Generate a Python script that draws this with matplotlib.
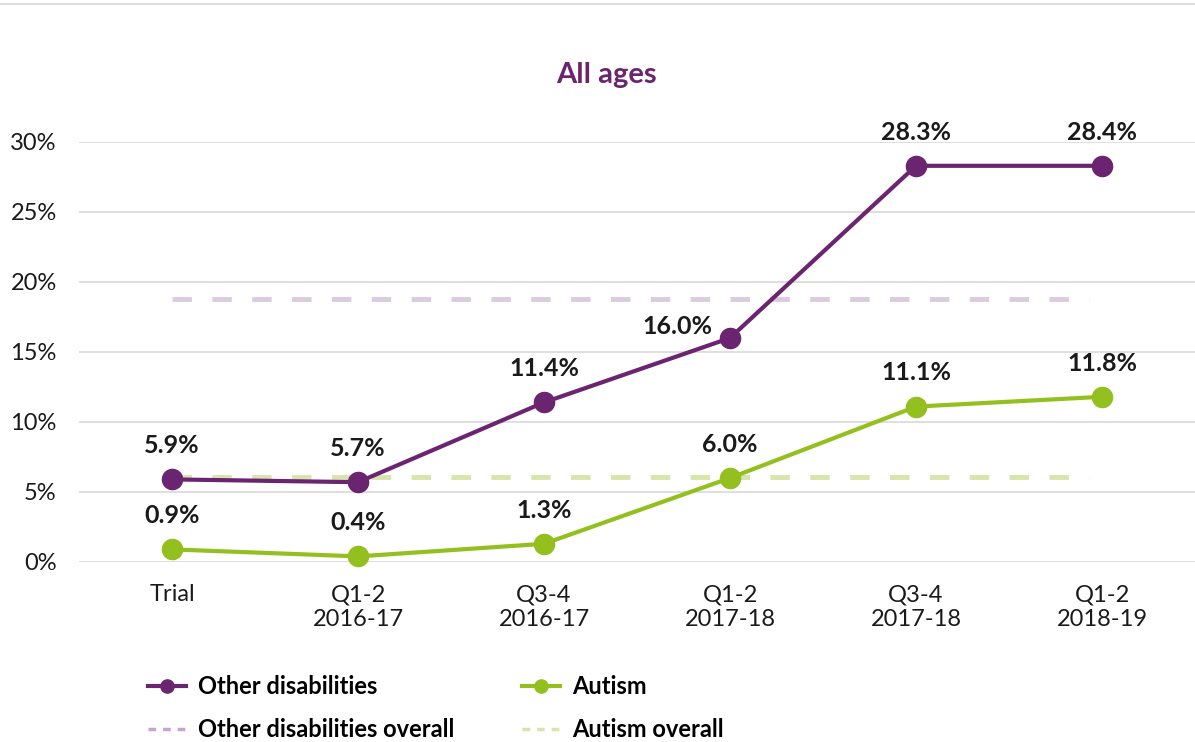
import matplotlib.pyplot as plt
from matplotlib.lines import Line2D

plt.rcParams['font.family'] = ['Lato', 'DejaVu Sans']

categories = ['Trial', 'Q1-2\n2016-17', 'Q3-4\n2016-17', 'Q1-2\n2017-18', 'Q3-4\n2017-18', 'Q1-2\n2018-19']
other = [5.9, 5.7, 11.4, 16.0, 28.3, 28.3]
other_labels = ['5.9%', '5.7%', '11.4%', '16.0%', '28.3%', '28.4%']
autism = [0.9, 0.4, 1.3, 6.0, 11.1, 11.8]
autism_labels = ['0.9%', '0.4%', '1.3%', '6.0%', '11.1%', '11.8%']
other_overall = 18.8
autism_overall = 6.1

purple = '#6b2470'
green = '#93c01f'
purple_light = '#dccbe0'
green_light = '#d7e5ab'

fig = plt.figure(figsize=(11.95, 7.42), dpi=100)
ax = fig.add_axes([79 / 1195, 1 - 562 / 742, 1 - 79 / 1195, 420 / 742])

x = list(range(len(categories)))
ax.plot([0, 4.93], [other_overall] * 2, color=purple_light, lw=3.5, ls=(0, (4, 4.2)), zorder=2)
ax.plot([0, 4.93], [autism_overall] * 2, color=green_light, lw=3.5, ls=(0, (4, 4.2)), zorder=2)
ax.plot(x, other, color=purple, lw=3, marker='o', ms=14.5, zorder=3, clip_on=False)
ax.plot(x, autism, color=green, lw=3, marker='o', ms=14.5, zorder=3, clip_on=False)

label_kw = dict(textcoords='offset points', fontsize=18, fontweight='bold', color='#1a1a1a')
for i, (v, t) in enumerate(zip(other, other_labels)):
    if i == 3:
        ax.annotate(t, (i, v), xytext=(-13, 8), ha='right', va='center', **label_kw)
    else:
        ax.annotate(t, (i, v), xytext=(0, 16), ha='center', va='bottom', **label_kw)
for i, (v, t) in enumerate(zip(autism, autism_labels)):
    ax.annotate(t, (i, v), xytext=(0, 16), ha='center', va='bottom', **label_kw)

ax.set_xlim(-0.5, 5.5)
ax.set_ylim(0, 30)
ax.set_yticks(range(0, 31, 5))
ax.set_yticklabels([f'{v}%' for v in range(0, 31, 5)])
ax.set_xticks(x)
ax.set_xticklabels(categories)
ax.tick_params(length=0, labelsize=17, colors='#1a1a1a')
ax.tick_params(axis='y', pad=16)
ax.tick_params(axis='x', pad=16)
ax.grid(axis='y', color='#d9d9d9', lw=1.2)
ax.set_axisbelow(True)
for s in ax.spines.values():
    s.set_visible(False)

fig.text(606 / 1195, 1 - 75 / 742, 'All ages', ha='center', va='center', fontsize=21,
         fontweight='bold', color=purple)
fig.add_artist(Line2D([0, 1], [1 - 4 / 742] * 2, color='#dddddd', lw=1.5))

handles = [
    Line2D([], [], color=purple, lw=3, marker='o', ms=9.5),
    Line2D([], [], color='#c4a6cc', lw=2.5, ls=(0, (2.2, 2))),
    Line2D([], [], color=green, lw=3, marker='o', ms=9.5),
    Line2D([], [], color=green_light, lw=2.5, ls=(0, (2.2, 2))),
]
labels = ['Other disabilities', 'Other disabilities overall', 'Autism', 'Autism overall']
fig.legend(handles, labels, ncol=2, loc='upper left',
           bbox_to_anchor=(148 / 1195, 1 - 675 / 742),
           frameon=False, prop={'size': 17, 'weight': 'bold'},
           borderpad=0, borderaxespad=0, handlelength=1.6, handletextpad=0.5,
           columnspacing=2.9, labelspacing=0.85)

fig.savefig('out.png', dpi=100)
